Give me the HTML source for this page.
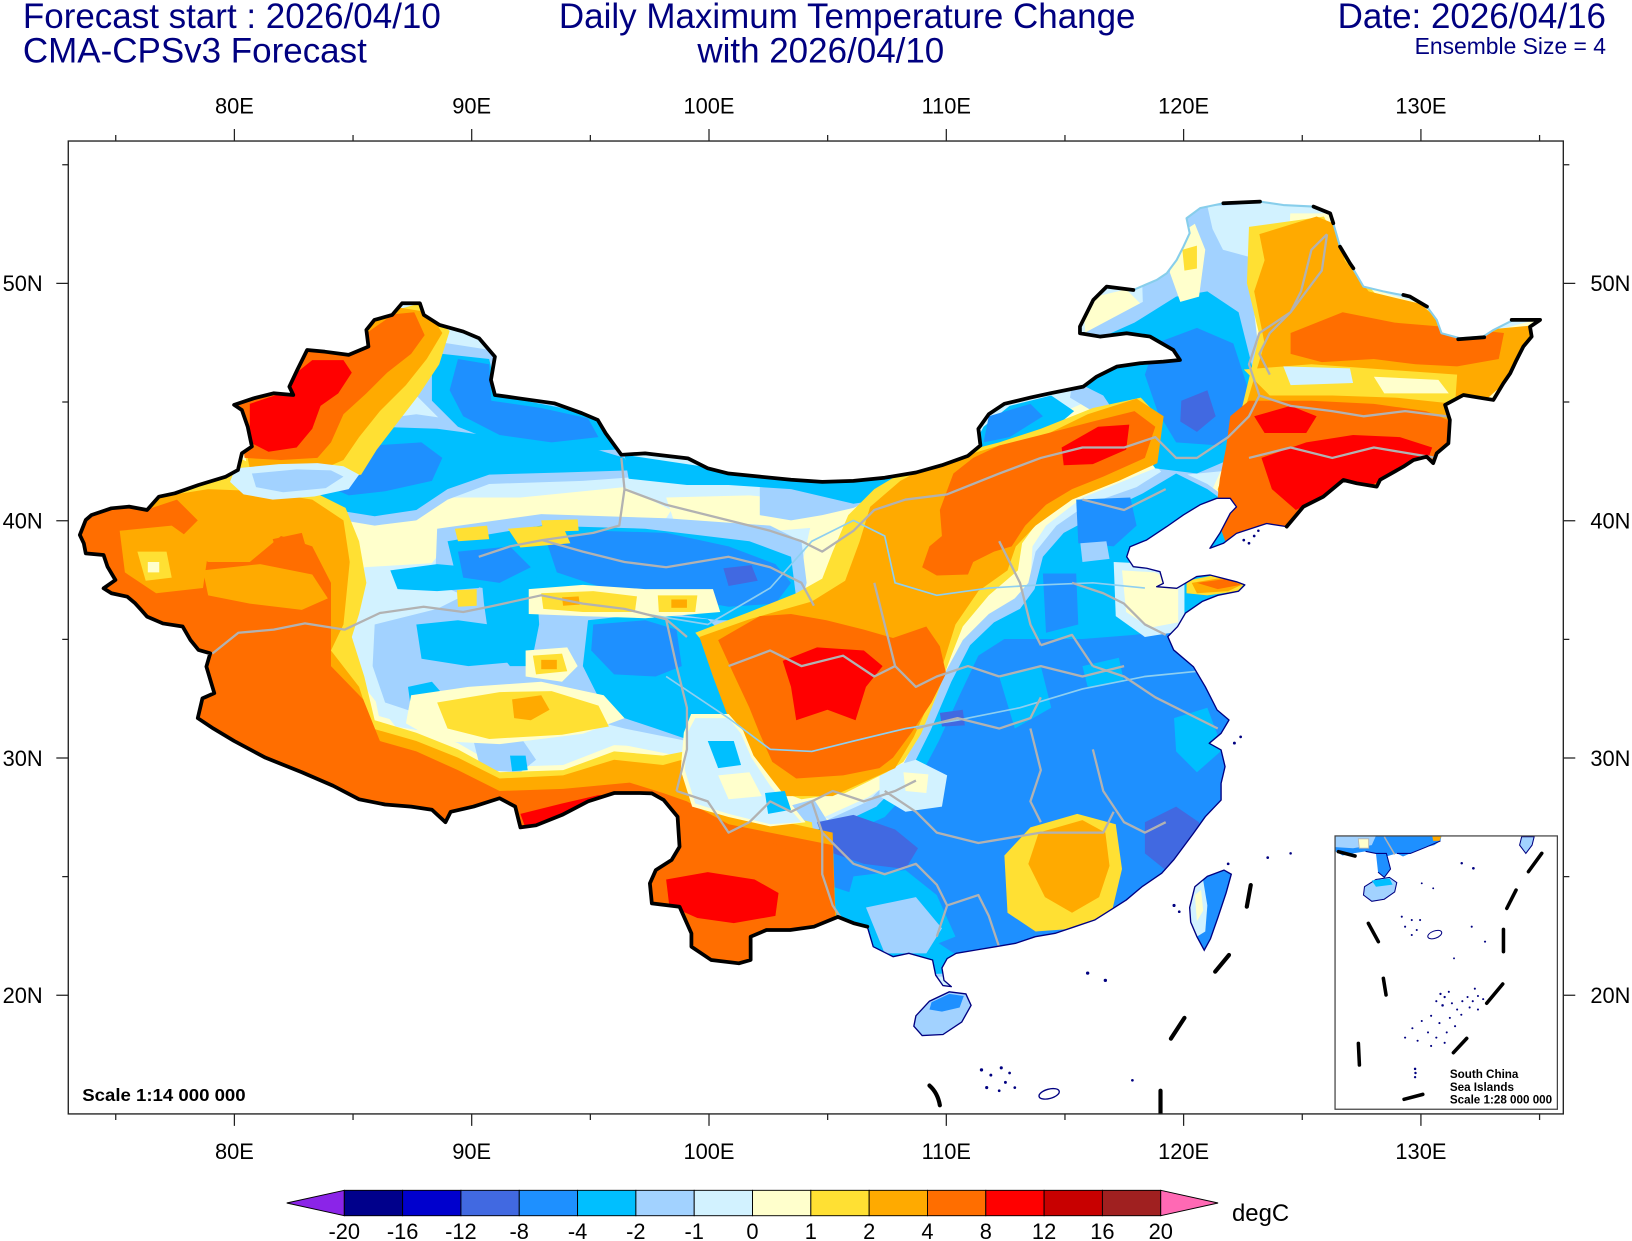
<!DOCTYPE html>
<html><head><meta charset="utf-8">
<style>
html,body{margin:0;padding:0;background:#fff;}
svg{display:block;}
text{font-family:"Liberation Sans",Arial,Helvetica,sans-serif;}
</style></head><body>
<svg xmlns="http://www.w3.org/2000/svg" width="1632" height="1241" viewBox="0 0 1568 1192.4" preserveAspectRatio="none">
<defs>
<clipPath id="cn"><path d="M76.7,514 82.4,499.6 88,494.8 107,488.4 124,486.8 141.3,490 152.7,477.2 168,474 190.7,466 217,458 228.6,451.6 232.4,435.6 242,429 238,410 232.4,394 224.9,389 243.8,382.7 262.8,377.9 281.8,379.5 278,371.5 285.6,355.5 295.1,336.3 312,337.9 335,341 354,333 352,317 359.7,307.4 376.8,302.6 386.3,291.4 403.4,291.4 407.2,302.6 422.3,312.2 445.1,318.6 460.3,325 475.5,342.7 471.7,365 475.5,379.5 498.3,382.7 532.5,387.5 559,397 574.3,403.5 581.9,416.3 597,437 619.8,435.6 660.9,440.4 680,450 700,455 730,458 760,461 790,463 820,462 850,459 880,454 905,447 930,438 942,428 940,412 950,398 965,388 990,382 1008.8,377.9 1040.8,371.5 1053.6,361.9 1072.9,352.3 1095.3,349 1117.7,347.5 1133.7,345.9 1127.3,336.3 1105,323.4 1082.5,320.2 1056.8,323.4 1037.6,320.2 1037.6,313.8 1050.4,288.2 1063.3,275.4 1088.9,278.6 1111.3,269 1121,262.6 1130.5,249.8 1137,237 1143,224 1140,209.7 1153,200 1175.4,195.3 1210.6,193.7 1233,197 1262,198.5 1278,205 1281,214.5 1287.5,237 1297,253 1310,275.4 1329,280 1354.7,285 1371,294.6 1380.4,307.4 1385,320.2 1402.8,325 1425,323.4 1435,317 1454,307.4 1479.7,307.4 1470,314 1471.6,323.4 1463.6,333 1457,346 1451,358.7 1444.4,368.3 1434.8,384.3 1425,382.7 1406,379.5 1388.4,389 1393,403.5 1391.6,426 1380.4,435.5 1377,445 1370.7,438.8 1358,442 1348.3,448.4 1326,461 1322.7,467.6 1303.5,464.4 1290.7,461.2 1271.4,477.2 1252.3,486.8 1236.2,506 1217,503 1188,512.5 1175.4,522 1162.5,526.8 1172,512.4 1182,493.2 1188,487 1182,478.8 1169,478.8 1153,485 1137,494.8 1121,506 1101.7,518.8 1085.7,525.3 1082.5,535 1088.9,544.5 1101.7,546 1114.5,549.3 1117.7,560.5 1111.3,563.7 1130.6,565.3 1149.7,554 1162.5,552.5 1188,559 1196,562 1190,568 1170,572 1155,578 1139,589 1131.4,602 1122,611.7 1127.6,624.5 1146.6,640.6 1158,659.8 1169.4,682.2 1180.8,691.8 1173.2,704.6 1161.8,714.2 1173.2,720.6 1177,736.6 1173.2,752.7 1173.2,768.7 1158,784.7 1146.6,800.7 1127.6,826.3 1116.2,839 1097.2,852 1082,864.8 1066.9,874.4 1051.7,884 1032.7,890.4 1013.7,896.8 994.7,900 975.7,906.4 956.7,909.6 937.7,912.8 918.7,916 910,921 905,930 907,942 914,948 906,947 899,937 896,922.4 873.2,916 858,919.2 839,909.6 833.3,890.4 820,887 805,881 782,890.4 759.2,893.6 736.4,893.6 721.2,900 721.2,922.4 709.9,925.6 683.3,922.4 664.3,909.6 664.3,896.8 652.9,871.2 626.3,868 624.4,848.8 630.1,836 645.3,826.3 652.9,813.5 651,784.7 637.7,768.7 626.3,762.3 614.9,762 590,762 565,770 540,783 515,793 500,795 495,775 480,767 455,775 433,780 428,790 415,778 395,775 370,773 345,768 320,755 290,742 255,728 225,712 205,700 190,690 194.5,671 205.9,666 202,653 198.3,640.5 202,627.7 190.7,624.5 183,615 175.5,602 156.5,599 141.3,592.5 135.6,586 129.9,579.7 122.3,573.3 107.1,570 99.5,565.3 110.9,557.3 103.3,544.5 99.5,533.3 82.4,531.7 80.5,522 Z"/></clipPath>
<clipPath id="ins"><rect x="1282.7" y="803.2" width="213.6" height="262.6"/></clipPath>
<clipPath id="frm"><rect x="65.6" y="135.5" width="1436.4" height="934.8"/></clipPath>
</defs>

<rect x="0" y="0" width="1568" height="1192.4" fill="#fff"/>

<!-- Titles -->
<text x="22" y="27" font-size="33.6" fill="#000080">Forecast start : 2026/04/10</text>
<text x="22" y="60" font-size="33.6" fill="#000080">CMA-CPSv3 Forecast</text>
<text x="537" y="27" font-size="33.6" fill="#000080">Daily Maximum Temperature Change</text>
<text x="670" y="60" font-size="33.6" fill="#000080">with 2026/04/10</text>
<text x="1543" y="27" font-size="33.6" fill="#000080" text-anchor="end">Date: 2026/04/16</text>
<text x="1543" y="52" font-size="22" fill="#000080" text-anchor="end">Ensemble Size = 4</text>

<!-- Map colour fields -->
<g clip-path="url(#cn)">
<rect x="60" y="180" width="1450" height="780" fill="#D2F2FF"/>
<g fill="#FFFFCC">
<polygon points="60,465 160,458 230,425 300,465 400,478 500,478 600,468 645,490 625,522 520,512 430,522 400,560 350,572 330,610 350,660 380,698 440,708 520,698 600,716 660,728 705,758 800,788 810,960 50,960"/>
<polygon points="648,600 700,578 755,562 770,545 780,500 800,487 830,468 858,452 900,440 950,425 1000,405 1058,380 1112,374 1130,398 1124,444 1080,462 1040,478 1005,505 992,525 990,560 965,585 935,612 920,645 905,690 890,730 866,745 834,766 790,786 740,786 705,775 688,745 676,700 664,662"/>
<polygon points="1185,205 1282,205 1302,255 1332,282 1382,296 1404,326 1485,305 1450,385 1402,392 1398,425 1384,448 1332,470 1242,514 1176,525 1164,472 1184,428 1195,380 1205,330 1190,280"/>
<polygon points="952,822 978,786 1030,771 1078,781 1088,830 1078,883 1042,902 988,906 956,888"/>
<polygon points="1040,288 1082,278 1104,300 1082,322 1043,322"/>
<polygon points="640,478 720,476 790,482 805,505 720,512 648,502"/>
</g>
<!-- Tibet light cyan base -->
<polygon fill="#D2F2FF" points="350,545 470,538 560,560 640,570 720,585 735,640 730,705 670,712 637,718 590,716 541,735 480,737 440,714 400,698 364,688 355,645 345,605"/>
<g fill="#A2D2FF">
<polygon points="360,600 420,585 470,560 520,575 600,590 680,590 712,630 710,700 660,712 600,700 560,690 520,662 450,665 400,685 370,675 358,640"/>
<polygon points="455,712 500,708 515,730 500,742 462,740"/>
<polygon points="290,412 400,398 470,408 600,430 615,458 560,462 470,465 430,480 400,500 360,505 300,495 245,470"/>
<polygon points="418,328 482,338 482,378 582,398 602,440 520,442 440,420 400,380"/>
<polygon points="420,508 520,494 640,498 740,505 770,520 775,560 765,598 730,606 660,602 560,592 468,582 418,560"/>
<polygon points="1095,200 1150,193 1205,198 1218,240 1205,300 1212,360 1202,422 1182,452 1120,458 1078,412 1028,382 1038,322 1098,290"/>
<polygon points="738,780 782,768 802,800 792,868 832,898 882,888 902,912 840,922 760,902"/>
<polygon points="752,790 790,790 834,770 866,738 886,698 906,650 925,615 950,590 975,575 988,560 995,530 1015,505 1044,485 1092,468 1124,448 1160,465 1205,498 1205,925 755,945"/>
<polygon points="730,460 800,462 850,455 880,450 860,470 820,488 790,495 760,500 730,495"/>
</g>
<g fill="#00BFFF">
<polygon points="300,425 360,410 420,412 480,420 560,428 600,440 605,452 540,454 470,456 430,470 400,490 360,496 310,488 290,460"/>
<polygon points="425,340 470,345 478,380 540,392 578,405 592,432 540,434 480,426 440,410 415,385 415,360"/>
<polygon points="430,520 520,505 620,508 720,520 760,535 765,575 745,596 690,596 620,586 560,576 500,571 440,561"/>
<polygon points="375,548 420,542 465,546 460,565 420,568 382,566"/>
<polygon points="462,548 490,540 515,548 518,600 510,640 490,640 470,615 465,580"/>
<polygon points="400,600 440,596 470,600 497,615 495,636 450,640 405,633"/>
<polygon points="392,660 415,655 428,670 420,684 395,682"/>
<polygon points="565,596 620,590 680,595 702,615 705,660 700,708 665,712 630,700 600,690 575,670 560,640"/>
<polygon points="490,726 505,726 507,740 492,741"/>
<polygon points="600,437 700,452 800,463 880,455 930,438 945,410 970,390 1010,380 1032,395 1000,422 950,442 900,472 820,484 760,470 700,466 660,466 604,460"/>
<polygon points="760,800 800,795 842,775 874,742 894,702 914,655 932,620 955,598 980,585 994,566 1002,535 1022,512 1052,496 1098,474 1130,455 1160,470 1202,500 1202,922 762,942"/>
<polygon points="1045,330 1090,310 1130,285 1160,280 1190,300 1205,360 1200,410 1185,440 1150,455 1110,450 1080,410 1060,380 1040,370 1035,345"/>
</g>
<g fill="#1E90FF">
<polygon points="315,445 360,428 405,425 425,440 415,462 370,472 335,476 312,466"/>
<polygon points="440,345 470,350 472,385 520,392 565,402 575,420 530,425 480,418 445,400 432,375"/>
<polygon points="525,520 575,510 640,512 700,525 745,542 760,560 745,580 700,583 640,572 580,565 535,550"/>
<polygon points="440,530 490,525 510,545 480,560 445,555"/>
<polygon points="570,600 620,596 650,605 655,640 630,650 590,648 568,625"/>
<polygon points="775,815 805,805 850,785 882,750 902,712 922,668 940,630 965,614 1040,614 1090,610 1125,605 1205,600 1205,925 930,925 900,905 870,885 840,865 800,852"/>
<polygon points="1034,480 1086,478 1092,505 1070,525 1036,522"/>
<polygon points="1002,551 1034,551 1036,600 1005,608"/>
<polygon points="1110,330 1150,315 1185,330 1198,370 1192,410 1172,428 1130,425 1112,395 1100,360"/>
<polygon points="950,400 990,388 1002,400 970,420 945,425"/>
</g>
<g fill="#4169E1">
<polygon points="695,546 722,543 728,558 700,563"/>
<polygon points="785,790 820,783 860,797 882,815 870,835 830,830 795,818"/>
<polygon points="1100,790 1130,775 1152,790 1150,822 1120,836 1100,820"/>
<polygon points="1135,385 1160,375 1168,400 1150,415 1134,405"/>
<polygon points="903,685 925,682 927,697 905,698"/>
</g>
<g fill="#00BFFF">
<polygon points="960,650 1000,640 1010,680 975,700"/>
<polygon points="820,842 870,836 900,860 918,900 880,915 840,906 810,880"/>
<polygon points="1128,690 1160,680 1175,720 1150,742 1130,722"/>
<polygon points="1040,640 1075,632 1080,655 1045,660"/>
</g>
<polygon fill="#A2D2FF" points="832,872 880,862 905,892 890,916 850,916"/>
<polygon fill="#A2D2FF" points="1038,522 1063,520 1066,537 1040,540"/>
<polygon fill="#D2F2FF" points="845,740 880,730 910,745 905,775 870,780 845,765"/>
<polygon fill="#FFFFCC" points="868,742 892,744 890,762 870,760"/>
<!-- NE top light areas -->
<polygon fill="#D2F2FF" points="1160,198 1210,196 1240,200 1238,235 1212,250 1175,240 1165,220"/>
<polygon fill="#FFFFCC" points="1128,228 1148,215 1158,240 1152,285 1134,290 1124,262"/>
<polygon fill="#FFE033" points="1136,240 1150,236 1150,258 1138,260"/>
<!-- Shandong west light -->
<polygon fill="#D2F2FF" points="1070,540 1112,542 1138,556 1138,606 1100,612 1072,592"/>
<polygon fill="#FFFFCC" points="1078,548 1110,550 1132,562 1132,598 1105,603 1082,588"/>
<!-- Tibet/Qinghai yellow streaks -->
<polygon fill="#FFFFCC" points="508,566 560,562 620,566 685,566 692,588 620,594 560,592 508,590"/>
<polygon fill="#FFE033" points="520,570 570,568 612,573 610,588 560,588 522,585"/>
<polygon fill="#FFE033" points="632,572 670,572 668,588 633,588"/>
<polygon fill="#FFAA00" points="540,574 556,573 557,581 541,582"/>
<polygon fill="#FFAA00" points="645,576 660,576 660,584 645,584"/>
<polygon fill="#FFE033" points="439,567 458,566 458,582 440,583"/>
<polygon fill="#FFFFCC" points="505,625 545,622 555,640 540,655 505,650"/>
<polygon fill="#FFE033" points="512,630 540,628 545,645 515,648"/>
<polygon fill="#FFAA00" points="520,634 535,634 535,643 520,643"/>
<polygon fill="#FFFFCC" points="395,668 450,660 520,655 580,668 600,690 560,705 480,715 420,712 390,695"/>
<polygon fill="#FFE033" points="420,675 480,665 530,664 575,678 585,698 540,706 470,710 430,700"/>
<polygon fill="#FFAA00" points="492,672 520,668 528,682 510,692 494,690"/>
<!-- Tarim yellow spots -->
<g fill="#FFE033">
<polygon points="488,508 540,504 548,522 500,526"/>
<polygon points="437,508 468,505 470,518 440,520"/>
<polygon points="520,500 555,499 556,510 522,511"/>
</g>

<g fill="#FFE033">
<polygon points="60,475 150,468 225,438 292,468 332,488 345,520 352,560 345,590 338,612 350,650 360,692 400,704 440,720 480,742 541,740 590,722 637,726 668,720 692,768 780,790 805,955 55,955"/>
<polygon points="222,372 290,348 350,306 402,292 432,318 422,350 402,380 382,406 362,432 347,456 300,466 238,450"/>
<polygon points="668,608 720,588 765,570 790,556 800,530 815,495 840,470 870,452 910,438 960,425 1000,412 1050,392 1096,382 1117,404 1112,442 1070,458 1030,475 998,500 982,522 978,548 950,572 925,602 914,630 900,668 885,705 868,732 852,742 812,762 770,768 735,755 712,725 700,690 688,650 678,620"/>
<polygon points="1200,218 1272,208 1292,248 1322,283 1372,298 1402,322 1480,312 1447,372 1397,386 1394,430 1372,447 1322,468 1242,510 1180,520 1170,470 1186,422 1198,372 1210,322 1198,272"/>
<polygon points="965,822 990,795 1035,782 1072,792 1078,835 1068,877 1036,892 995,895 968,877"/>
<polygon points="270,478 300,476 305,490 275,492"/>
<polygon points="1140,558 1170,552 1196,560 1190,568 1160,572 1140,570"/>
</g>
<g fill="#FFAA00">
<polygon points="60,485 150,478 200,470 250,472 300,480 330,500 336,540 330,600 318,625 345,660 358,700 400,712 440,728 480,748 541,745 590,730 637,735 663,728 700,778 800,800 805,955 55,955"/>
<polygon points="225,378 280,350 300,330 350,310 380,295 412,300 425,320 410,345 390,370 365,395 345,420 330,442 300,455 240,450"/>
<polygon points="672,612 720,595 780,578 812,558 826,520 836,487 865,462 884,452 920,440 960,428 1000,420 1045,398 1092,383 1118,400 1112,445 1075,462 1030,480 995,505 976,525 968,548 940,568 918,600 908,632 895,670 878,708 860,738 800,765 755,765 725,750 712,720 700,690 685,650"/>
<polygon points="625,765 680,770 740,790 780,810 800,850 805,890 770,900 720,910 700,930 620,930 610,800"/>
<polygon points="1210,225 1265,208 1282,215 1292,250 1315,280 1365,292 1395,320 1480,312 1452,362 1430,382 1395,385 1392,430 1370,445 1320,466 1240,508 1180,518 1170,470 1185,430 1200,380 1215,330 1205,280 1215,250"/>
<polygon points="998,800 1040,788 1062,800 1066,832 1056,862 1030,877 1004,862 988,830"/>
<polygon points="1145,560 1175,555 1195,561 1180,568 1150,570"/>
</g>
<g fill="#FF6E00">
<polygon points="55,490 100,485 140,490 170,480 190,500 170,520 200,540 240,540 270,515 300,525 318,560 318,610 318,640 349,672 365,712 400,722 440,740 480,760 541,758 605,752 637,762 660,770 700,792 800,812 805,955 55,955"/>
<polygon points="228,380 262,377 285,356 296,336 340,338 355,318 378,302 398,300 408,322 395,340 372,358 352,378 330,398 318,425 305,440 270,442 235,440"/>
<polygon points="916,455 935,440 960,428 1000,418 1050,405 1090,395 1110,410 1100,440 1060,458 1030,470 1005,485 985,505 972,525 955,530 935,540 930,552 900,553 886,545 893,525 905,515 903,490"/>
<polygon points="690,615 730,592 760,590 794,596 830,605 858,613 890,602 903,621 909,647 895,675 875,705 858,728 845,738 810,745 765,748 742,732 730,705 720,680 705,648"/>
<polygon points="628,775 670,780 720,800 765,820 785,850 780,885 740,895 715,915 700,930 620,930 615,800"/>
<polygon points="1240,320 1290,300 1340,310 1400,315 1445,320 1440,345 1400,352 1360,350 1320,345 1270,348 1240,340"/>
<polygon points="1182,400 1200,385 1260,385 1320,388 1370,395 1395,405 1395,430 1378,445 1350,450 1320,466 1290,462 1260,485 1236,508 1205,510 1178,522 1168,495 1172,460 1178,430"/>
<polygon points="262,518 290,512 298,540 270,545"/>
<polygon points="1150,560 1180,556 1192,562 1170,566"/>
</g>
<g fill="#FFAA00">
<polygon points="115,510 165,505 200,530 195,565 150,570 120,550"/>
<polygon points="195,548 250,542 300,552 315,575 290,586 240,580 200,572"/>
</g>
<polygon fill="#FFE033" points="132,530 160,530 165,555 140,558"/>
<polygon fill="#FFFFCC" points="142,540 153,540 153,550 142,550"/>
<!-- light band between Junggar and Tarim -->
<polygon fill="#D2F2FF" points="226,450 268,446 305,445 330,448 345,456 335,470 302,477 262,480 234,475 221,463"/>
<polygon fill="#A2D2FF" points="242,455 285,451 318,452 330,458 313,469 272,473 246,468"/>
<!-- Sichuan-Yunnan border light patch -->
<polygon fill="#FFFFCC" points="664,686 700,686 714,702 724,726 744,752 774,790 740,794 700,785 665,775 654,740 657,704"/>
<polygon fill="#D2F2FF" points="668,690 700,690 712,705 722,728 740,755 770,790 740,792 700,782 668,772 658,740 660,705"/>
<polygon fill="#00BFFF" points="680,712 705,712 712,735 690,738"/>
<polygon fill="#FFFFCC" points="690,745 720,742 732,765 700,768"/>
<polygon fill="#00BFFF" points="735,762 754,760 760,778 738,782"/>
<!-- NE bands -->
<polygon fill="#FFE033" points="1195,355 1260,350 1330,355 1400,360 1398,388 1340,382 1280,380 1220,380"/>
<polygon fill="#FFFFCC" points="1320,362 1382,365 1392,378 1330,378"/>
<polygon fill="#D2F2FF" points="1233,352 1297,354 1300,368 1240,370"/>
<g fill="#FF0000">
<polygon points="240,388 270,378 285,358 300,346 330,346 338,358 325,378 308,390 300,412 285,430 258,434 240,425"/>
<polygon points="500,782 540,772 575,764 598,765 582,780 540,790 505,796"/>
<polygon points="640,845 680,838 725,845 748,858 745,880 705,887 670,882 643,870"/>
<polygon points="752,635 785,622 830,625 848,640 832,660 822,692 795,682 765,692 760,660"/>
<polygon points="1020,430 1055,410 1085,408 1082,432 1050,446 1022,447"/>
<polygon points="1205,400 1240,390 1265,400 1255,416 1215,416"/>
<polygon points="1212,440 1255,425 1300,418 1345,420 1376,430 1370,447 1340,455 1318,466 1290,462 1262,482 1245,490 1222,470"/>
</g>
<!-- rivers -->
<path fill="none" stroke="#8ECFF0" stroke-width="1.6" d="M620,590 680,600 740,565 780,520 820,500 850,515 860,560 900,572 950,565 1000,562 1050,560 1100,565 M640,650 700,690 740,720 780,722 820,712 870,700 920,692 980,680 1040,662 1100,650 1150,645 1170,652"/>
<!-- province lines -->
<path fill="none" stroke="#B2B2B2" stroke-width="2.2" stroke-linejoin="round" d="M204,628 229,608 263,605 293,599 331,605 365,589 407,583 445,588 470,583 520,572 560,580 600,585 640,595 660,612 M460,535 490,525 521,519 570,512 595,505 600,470 597,440 M521,519 560,530 600,540 640,545 700,535 740,545 770,560 782,582 M600,470 640,485 700,500 740,510 770,520 790,530 820,510 840,490 870,480 910,475 960,455 1000,440 1040,430 1080,430 1110,420 1130,440 1150,440 1180,420 1200,400 1210,380 1200,350 1210,320 1240,300 1270,260 1275,225 M640,595 650,640 660,680 660,720 650,760 M650,760 680,770 700,800 720,790 740,770 760,780 780,770 800,760 830,770 860,760 880,750 M700,640 740,625 770,640 810,630 840,650 860,640 880,660 M840,560 850,600 860,640 880,660 900,650 930,640 960,650 M880,700 920,690 960,700 990,690 1000,670 M850,760 880,780 900,800 940,810 970,805 1000,800 1030,800 1060,800 1070,780 M790,800 820,830 850,840 880,830 900,850 910,870 900,900 M910,870 940,860 950,880 960,910 M1050,720 1060,760 1080,790 1100,800 1120,790 M990,700 1000,740 990,770 1000,790 M1050,640 1080,650 1110,670 1150,690 1170,700 M960,650 1000,640 1040,650 1080,640 M1030,560 1060,570 1080,580 1100,600 1120,610 M960,520 980,560 990,600 1000,620 M1040,480 1080,490 1100,480 1120,470 M1200,440 1240,430 1280,440 1320,430 1380,440 M1210,380 1240,390 1280,395 1310,400 1350,395 1390,400 M1275,225 1260,240 1250,280 1240,300 1220,320 1210,340 1220,360 M780,770 790,800 790,840 800,870 810,885 M1000,620 1030,610 1050,640"/>
</g>

<!-- coastline -->
<path fill="none" stroke="#000080" stroke-width="1.3" stroke-linejoin="round" d="M1236.2,506 1217,503 1188,512.5 1175.4,522 1162.5,526.8 1172,512.4 1182,493.2 1188,487 1182,478.8 1169,478.8 1153,485 1137,494.8 1121,506 1101.7,518.8 1085.7,525.3 1082.5,535 1088.9,544.5 1101.7,546 1114.5,549.3 1117.7,560.5 1111.3,563.7 1130.6,565.3 1149.7,554 1162.5,552.5 1188,559 1196,562 1190,568 1170,572 1155,578 1139,589 1131.4,602 1122,611.7 1127.6,624.5 1146.6,640.6 1158,659.8 1169.4,682.2 1180.8,691.8 1173.2,704.6 1161.8,714.2 1173.2,720.6 1177,736.6 1173.2,752.7 1173.2,768.7 1158,784.7 1146.6,800.7 1127.6,826.3 1116.2,839 1097.2,852 1082,864.8 1066.9,874.4 1051.7,884 1032.7,890.4 1013.7,896.8 994.7,900 975.7,906.4 956.7,909.6 937.7,912.8 918.7,916 910,921 905,930 907,942 914,948 906,947 899,937 896,922.4 873.2,916 858,919.2 839,909.6 833.3,890.4"/>

<!-- NE river border -->
<path fill="none" stroke="#87CEEB" stroke-width="2" stroke-linejoin="round" d="M1088.9,278.6 1111.3,269 1121,262.6 1130.5,249.8 1137,237 1143,224 1140,209.7 1153,200 1175.4,195.3 1210.6,193.7 1233,197 1262,198.5 1278,205 1281,214.5 1287.5,237 1297,253 1310,275.4 1329,280 1354.7,285 1371,294.6 1380.4,307.4 1385,320.2 1402.8,325 1425,323.4 1435,317 1454,307.4 1479.7,307.4"/>

<!-- land border -->
<path fill="none" stroke="#000" stroke-width="3.6" stroke-linejoin="round" stroke-linecap="round" d="M833.3,890.4 820,887 805,881 782,890.4 759.2,893.6 736.4,893.6 721.2,900 721.2,922.4 709.9,925.6 683.3,922.4 664.3,909.6 664.3,896.8 652.9,871.2 626.3,868 624.4,848.8 630.1,836 645.3,826.3 652.9,813.5 651,784.7 637.7,768.7 626.3,762.3 614.9,762 590,762 565,770 540,783 515,793 500,795 495,775 480,767 455,775 433,780 428,790 415,778 395,775 370,773 345,768 320,755 290,742 255,728 225,712 205,700 190,690 194.5,671 205.9,666 202,653 198.3,640.5 202,627.7 190.7,624.5 183,615 175.5,602 156.5,599 141.3,592.5 135.6,586 129.9,579.7 122.3,573.3 107.1,570 99.5,565.3 110.9,557.3 103.3,544.5 99.5,533.3 82.4,531.7 80.5,522 76.7,514 82.4,499.6 88,494.8 107,488.4 124,486.8 141.3,490 152.7,477.2 168,474 190.7,466 217,458 228.6,451.6 232.4,435.6 242,429 238,410 232.4,394 224.9,389 243.8,382.7 262.8,377.9 281.8,379.5 278,371.5 285.6,355.5 295.1,336.3 312,337.9 335,341 354,333 352,317 359.7,307.4 376.8,302.6 386.3,291.4 403.4,291.4 407.2,302.6 422.3,312.2 445.1,318.6 460.3,325 475.5,342.7 471.7,365 475.5,379.5 498.3,382.7 532.5,387.5 559,397 574.3,403.5 581.9,416.3 597,437 619.8,435.6 660.9,440.4 680,450 700,455 730,458 760,461 790,463 820,462 850,459 880,454 905,447 930,438 942,428 940,412 950,398 965,388 990,382 1008.8,377.9 1040.8,371.5 1053.6,361.9 1072.9,352.3 1095.3,349 1117.7,347.5 1133.7,345.9 1127.3,336.3 1105,323.4 1082.5,320.2 1056.8,323.4 1037.6,320.2 1037.6,313.8 1050.4,288.2 1063.3,275.4 1088.9,278.6 M1175.4,195.3 1210.6,193.7 M1262,198.5 1278,205 1281,214.5 M1287.5,237 1297,253 1300.3,257.8 M1348.3,283.4 1354.7,285 1371,294.6 M1401,326 1426,324 M1452.4,307.4 1479.7,307.4 1470,314 1471.6,323.4 1463.6,333 1457,346 1451,358.7 1444.4,368.3 1434.8,384.3 1425,382.7 1406,379.5 1388.4,389 1393,403.5 1391.6,426 1380.4,435.5 1377,445 1370.7,438.8 1358,442 1348.3,448.4 1326,461 1322.7,467.6 1303.5,464.4 1290.7,461.2 1271.4,477.2 1252.3,486.8 1236.2,506"/>

<!-- Hainan -->
<polygon points="880,976 893,962 912,953 928,955 933,966 924,982 906,994 886,995 878,986" fill="#A2D2FF" stroke="#000080" stroke-width="1.3"/>
<polygon points="895,963 912,955 926,957 922,968 905,972 893,970" fill="#1E90FF"/>
<!-- Taiwan -->
<polygon points="1143,872 1148,852 1160,842 1176,836 1183,840 1178,858 1170,882 1163,902 1157,913 1150,900 1144,886" fill="#1E90FF"/>
<polygon points="1143,872 1148,852 1156,846 1160,870 1158,895 1150,900 1144,886" fill="#D2F2FF"/>
<polygon points="1148,860 1154,855 1156,875 1150,885" fill="#FFFFCC"/>
<polygon points="1143,872 1148,852 1160,842 1176,836 1183,840 1178,858 1170,882 1163,902 1157,913 1150,900 1144,886" fill="none" stroke="#000080" stroke-width="1.3"/>

<!-- small islands -->
<g fill="#000080">
<circle cx="943" cy="1028" r="1.6"/><circle cx="952" cy="1033" r="1.4"/><circle cx="962" cy="1026" r="1.5"/><circle cx="970" cy="1031" r="1.3"/><circle cx="948" cy="1045" r="1.5"/><circle cx="960" cy="1048" r="1.3"/><circle cx="966" cy="1040" r="1.4"/><circle cx="975" cy="1045" r="1.3"/>
<circle cx="1045" cy="935" r="1.6"/><circle cx="1062" cy="942" r="1.6"/><circle cx="1088" cy="1038" r="1.3"/><circle cx="1128" cy="870" r="1.5"/><circle cx="1133" cy="876" r="1.3"/>
<circle cx="1186" cy="714" r="1.4"/><circle cx="1192" cy="708" r="1.3"/><circle cx="1180" cy="830" r="1.3"/><circle cx="1218" cy="824" r="1.3"/><circle cx="1240" cy="820" r="1.2"/>
<circle cx="1205" cy="515" r="1.3"/><circle cx="1200" cy="522" r="1.3"/><circle cx="1195" cy="519" r="1.3"/><circle cx="1209" cy="510" r="1.2"/>
</g>
<ellipse cx="1008" cy="1051" rx="10" ry="4.5" fill="none" stroke="#000080" stroke-width="1.3" transform="rotate(-15 1008 1051)"/>

<!-- nine-dash line (main) -->
<g clip-path="url(#frm)" fill="none" stroke="#000" stroke-width="4" stroke-linecap="round">
<path d="M1201.7,850.4 1197.9,871.2"/>
<path d="M1180.8,917.6 1167.5,933.6"/>
<path d="M1138,978 1125,998"/>
<path d="M1115,1048 1115,1075"/>
<path d="M893,1043 Q901,1050 903,1062"/>
</g>

<text x="79" y="1058" font-size="16.5" font-weight="bold" fill="#000" textLength="157" lengthAdjust="spacingAndGlyphs">Scale 1:14 000 000</text>

<!-- Inset -->
<rect x="1282.7" y="803.2" width="213.6" height="262.6" fill="#fff"/>
<g clip-path="url(#ins)">
<polygon points="1283,803 1385,803 1384,808 1378,812 1370,814 1362,817 1355,820 1348,823 1342,820 1335,822 1328,824 1322,820 1312,818 1300,820 1290,822 1283,818" fill="#1E90FF"/>
<polygon points="1283,803 1322,803 1318,812 1300,815 1283,814" fill="#A2D2FF"/>
<polygon points="1305,806 1315,806 1315,815 1306,815" fill="#FFFFCC" stroke="#B2B2B2" stroke-width="0.8"/>
<polygon points="1376,803 1385,803 1383,808 1377,808" fill="#FFAA00"/>
<polygon points="1322,820 1332,820 1336,835 1330,843 1324,838" fill="#1E90FF"/>
<path d="M1330,804 1340,821" stroke="#B2B2B2" stroke-width="1.5" fill="none"/>
<path d="M1312,818 1322,820 1332,820 1336,835 1330,843 1324,838 M1342,820 1355,820 1370,814 1384,808" fill="none" stroke="#000080" stroke-width="1"/>
<polygon points="1311,852 1322,845 1335,843 1342,848 1340,857 1330,864 1318,866 1310,860" fill="#A2D2FF" stroke="#000080" stroke-width="1"/>
<polygon points="1318,846 1335,844 1338,850 1322,852" fill="#00BFFF"/>
<polygon points="1462,804 1474,804 1472,812 1466,820 1460,812" fill="#A2D2FF" stroke="#000080" stroke-width="1"/>
<g stroke="#000" stroke-width="3.4" stroke-linecap="round" fill="none">
<path d="M1285.9,818.3 1301.9,822.5"/>
<path d="M1468.5,837.5 1481.3,819.9"/>
<path d="M1447.7,872.8 1456.6,855.2"/>
<path d="M1444.5,893 1444.5,914.4"/>
<path d="M1428.4,964 1443.8,945.5"/>
<path d="M1396.4,1011.5 1409.2,997.7"/>
<path d="M1349,1056.3 1367,1051.5"/>
<path d="M1305.1,1002.5 1306.1,1023.3"/>
<path d="M1329.1,940 1331.7,956"/>
<path d="M1314.7,887.2 1324.3,904.8"/>
</g>
<g fill="#000080">
<circle cx="1346.8" cy="880.8" r="1"/><circle cx="1350" cy="890.4" r="1"/><circle cx="1356.4" cy="884" r="1"/><circle cx="1361.2" cy="893.6" r="1"/><circle cx="1364.4" cy="884" r="1"/><circle cx="1356.4" cy="898.4" r="1"/>
<circle cx="1404.4" cy="829.5" r="1.2"/><circle cx="1415.6" cy="834.3" r="1.3"/><circle cx="1366" cy="848.7" r="0.9"/><circle cx="1377" cy="853.5" r="0.9"/><circle cx="1414" cy="890.4" r="1"/><circle cx="1426.8" cy="904.8" r="1"/><circle cx="1397" cy="920.8" r="0.9"/>
<circle cx="1384" cy="955" r="1.1"/><circle cx="1388" cy="958" r="1.1"/><circle cx="1392" cy="953" r="1"/><circle cx="1380" cy="962" r="1"/><circle cx="1386" cy="966" r="1.2"/><circle cx="1395" cy="964" r="1"/><circle cx="1400" cy="970" r="1"/><circle cx="1405" cy="962" r="1"/><circle cx="1410" cy="958" r="1"/><circle cx="1415" cy="962" r="1"/><circle cx="1420" cy="957" r="1"/><circle cx="1425" cy="960" r="1"/><circle cx="1412" cy="968" r="1"/><circle cx="1404" cy="975" r="1"/><circle cx="1393" cy="978" r="1"/><circle cx="1383" cy="983" r="1"/><circle cx="1375" cy="976" r="1"/><circle cx="1366" cy="981" r="1"/><circle cx="1357" cy="988" r="1"/><circle cx="1372" cy="992" r="1"/><circle cx="1380" cy="997" r="1"/><circle cx="1390" cy="992" r="1"/><circle cx="1398" cy="986" r="1"/><circle cx="1350" cy="997" r="1"/><circle cx="1362" cy="1000" r="1"/><circle cx="1375" cy="1005" r="1"/><circle cx="1388" cy="1002" r="1"/><circle cx="1420" cy="970" r="1"/><circle cx="1417" cy="950" r="1"/><circle cx="1359.6" cy="1027" r="1.2"/><circle cx="1360" cy="1031" r="1.2"/><circle cx="1359.6" cy="1035" r="1.1"/>
</g>
<ellipse cx="1378.5" cy="898" rx="7" ry="3.5" fill="none" stroke="#000080" stroke-width="1" transform="rotate(-20 1378.5 898)"/>
<text x="1393" y="1036" font-size="11.2" font-weight="bold" fill="#000">South China</text>
<text x="1393" y="1048.3" font-size="11.2" font-weight="bold" fill="#000">Sea Islands</text>
<text x="1393" y="1060.2" font-size="11.2" font-weight="bold" fill="#000">Scale 1:28 000 000</text>
</g>
<rect x="1282.7" y="803.2" width="213.6" height="262.6" fill="none" stroke="#444" stroke-width="1.2"/>

<!-- Frame -->
<rect x="65.6" y="135.5" width="1436.4" height="934.8" fill="none" stroke="#222" stroke-width="1.3"/>
<!-- ticks -->
<g stroke="#222" stroke-width="1.2" fill="none">
<path d="M111.2,135.5v-5.8 M339.2,135.5v-5.8 M567.2,135.5v-5.8 M795.2,135.5v-5.8 M1023.2,135.5v-5.8 M1251.2,135.5v-5.8 M1479.2,135.5v-5.8
M225.2,135.5v-11.5 M453.2,135.5v-11.5 M681.2,135.5v-11.5 M909.2,135.5v-11.5 M1137.2,135.5v-11.5 M1365.2,135.5v-11.5
M111.2,1070.3v5.8 M339.2,1070.3v5.8 M567.2,1070.3v5.8 M795.2,1070.3v5.8 M1023.2,1070.3v5.8 M1251.2,1070.3v5.8 M1479.2,1070.3v5.8
M225.2,1070.3v11.5 M453.2,1070.3v11.5 M681.2,1070.3v11.5 M909.2,1070.3v11.5 M1137.2,1070.3v11.5 M1365.2,1070.3v11.5
M65.6,158.3h-5.8 M65.6,386.3h-5.8 M65.6,614.3h-5.8 M65.6,842.3h-5.8
M65.6,272.3h-11.5 M65.6,500.3h-11.5 M65.6,728.3h-11.5 M65.6,956.3h-11.5
M1502,158.3h5.8 M1502,386.3h5.8 M1502,614.3h5.8 M1502,842.3h5.8
M1502,272.3h11.5 M1502,500.3h11.5 M1502,728.3h11.5 M1502,956.3h11.5"/>
</g>
<g font-size="21" fill="#000" text-anchor="middle">
<text x="225.2" y="109">80E</text><text x="453.2" y="109">90E</text><text x="681.2" y="109">100E</text><text x="909.2" y="109">110E</text><text x="1137.2" y="109">120E</text><text x="1365.2" y="109">130E</text>
<text x="225.2" y="1113.5">80E</text><text x="453.2" y="1113.5">90E</text><text x="681.2" y="1113.5">100E</text><text x="909.2" y="1113.5">110E</text><text x="1137.2" y="1113.5">120E</text><text x="1365.2" y="1113.5">130E</text>
</g>
<g font-size="21" fill="#000" text-anchor="end">
<text x="41" y="279.8">50N</text><text x="41" y="507.8">40N</text><text x="41" y="735.8">30N</text><text x="41" y="963.8">20N</text>
</g>
<g font-size="21" fill="#000">
<text x="1528" y="279.8">50N</text><text x="1528" y="507.8">40N</text><text x="1528" y="735.8">30N</text><text x="1528" y="963.8">20N</text>
</g>

<!-- Colorbar -->
<g stroke="#000" stroke-width="0.9">
<polygon points="275.5,1155.9 330.8,1143.7 330.8,1168.1" fill="#8B24E8"/>
<rect x="330.8" y="1143.7" width="56.03" height="24.4" fill="#00008B"/>
<rect x="386.83" y="1143.7" width="56.03" height="24.4" fill="#0000CD"/>
<rect x="442.86" y="1143.7" width="56.03" height="24.4" fill="#4169E1"/>
<rect x="498.89" y="1143.7" width="56.03" height="24.4" fill="#1E90FF"/>
<rect x="554.92" y="1143.7" width="56.03" height="24.4" fill="#00BFFF"/>
<rect x="610.95" y="1143.7" width="56.03" height="24.4" fill="#A2D2FF"/>
<rect x="666.98" y="1143.7" width="56.03" height="24.4" fill="#D2F2FF"/>
<rect x="723.01" y="1143.7" width="56.03" height="24.4" fill="#FFFFCC"/>
<rect x="779.04" y="1143.7" width="56.03" height="24.4" fill="#FFE033"/>
<rect x="835.07" y="1143.7" width="56.03" height="24.4" fill="#FFAA00"/>
<rect x="891.1" y="1143.7" width="56.03" height="24.4" fill="#FF6E00"/>
<rect x="947.13" y="1143.7" width="56.03" height="24.4" fill="#FF0000"/>
<rect x="1003.16" y="1143.7" width="56.03" height="24.4" fill="#C80000"/>
<rect x="1059.19" y="1143.7" width="56.03" height="24.4" fill="#A02020"/>
<polygon points="1115.22,1143.7 1170.3,1155.9 1115.22,1168.1" fill="#FF69B4"/>
</g>
<g font-size="21" fill="#000" text-anchor="middle">
<text x="330.8" y="1190.5">-20</text><text x="386.83" y="1190.5">-16</text><text x="442.86" y="1190.5">-12</text><text x="498.89" y="1190.5">-8</text><text x="554.92" y="1190.5">-4</text><text x="610.95" y="1190.5">-2</text><text x="666.98" y="1190.5">-1</text><text x="723.01" y="1190.5">0</text><text x="779.04" y="1190.5">1</text><text x="835.07" y="1190.5">2</text><text x="891.1" y="1190.5">4</text><text x="947.13" y="1190.5">8</text><text x="1003.16" y="1190.5">12</text><text x="1059.19" y="1190.5">16</text><text x="1115.22" y="1190.5">20</text>
</g>
<text x="1183.7" y="1173" font-size="23" fill="#000">degC</text>
</svg>
</body></html>
